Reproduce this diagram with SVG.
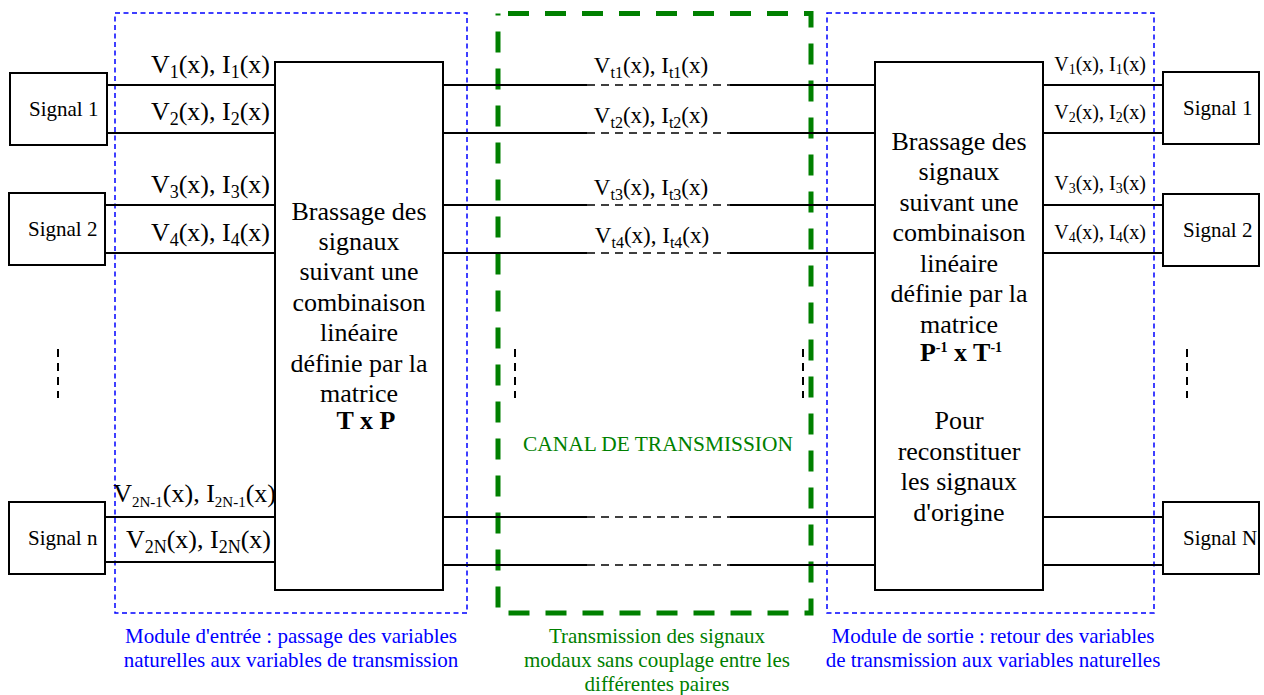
<svg xmlns="http://www.w3.org/2000/svg" width="1264" height="695" viewBox="0 0 1264 695">
<style>
text{font-family:"Liberation Serif","Times New Roman",serif;fill:#000}
.box{fill:#fff;stroke:#000;stroke-width:2}
.ln{stroke:#000;stroke-width:2;fill:none}
.dl{stroke:#000;stroke-width:1.5;stroke-dasharray:8 6;fill:none}
.el{stroke:#000;stroke-width:2;stroke-dasharray:8 6;fill:none}
.blue{fill:none;stroke:#0000ff;stroke-width:1.5;stroke-dasharray:5 3.5}
.green{fill:none;stroke:#008000;stroke-width:5;stroke-dasharray:21 16;stroke-dashoffset:-10}
.lbl{font-family:"Liberation Serif",serif;font-size:26px}
.lblm{font-family:"Liberation Serif",serif;font-size:23px;text-anchor:middle}
.lblr{font-family:"Liberation Serif",serif;font-size:20px;text-anchor:end}
.sig{font-family:"Liberation Serif",serif;font-size:21px}
.bt{font-family:"Liberation Serif",serif;font-size:26px;text-anchor:middle}
.b{font-weight:bold}
.cb{font-family:"Liberation Serif",serif;font-size:21px;fill:#0000ff;text-anchor:middle}
.cg{font-family:"Liberation Serif",serif;font-size:21px;fill:#008000;text-anchor:middle}
</style>
<g id="frames">
<rect class="blue" x="115" y="13" width="352" height="600"/>
<rect class="green" x="498" y="13.5" width="313" height="599.5"/>
<rect class="blue" x="827" y="13" width="327" height="600"/>
</g>
<g id="connectors">
<path class="ln" d="M107 85H275M107 133H275M105 205H275M105 253H275M105 517H275M105 562H275"/>
<path class="ln" d="M443 85H587M730 85H875M443 133H587M730 133H875M443 205H587M730 205H875M443 253H587M730 253H875M443 517H587M730 517H875M443 565H587M730 565H875"/>
<path class="dl" d="M587 85H730M587 133H730M587 205H730M587 253H730M587 517H730M587 565H730"/>
<path class="ln" d="M1043 85H1163M1043 133H1163M1043 205H1163M1043 253H1163M1043 517H1163M1043 565H1163"/>
<path class="el" d="M58 349V398M515 349V398M803 349V398M1187 349V398"/>
</g>
<g id="signal1-in"><rect class="box" x="10" y="73" width="97" height="72"/><text class="sig" x="29" y="116">Signal 1</text></g>
<g id="signal2-in"><rect class="box" x="9" y="193" width="96" height="72"/><text class="sig" x="28" y="236">Signal 2</text></g>
<g id="signaln-in"><rect class="box" x="9" y="502" width="96" height="72"/><text class="sig" x="28" y="545">Signal n</text></g>
<g id="signal1-out"><rect class="box" x="1163" y="72" width="96" height="72"/><text class="sig" x="1183" y="115">Signal 1</text></g>
<g id="signal2-out"><rect class="box" x="1163" y="194" width="96" height="72"/><text class="sig" x="1183" y="237">Signal 2</text></g>
<g id="signaln-out"><rect class="box" x="1163" y="502" width="96" height="72"/><text class="sig" x="1183" y="545">Signal N</text></g>
<g id="labels-in">
<text class="lbl" x="270" y="73" text-anchor="end">V<tspan font-size="18" dy="5">1</tspan><tspan dy="-5">(x), I</tspan><tspan font-size="18" dy="5">1</tspan><tspan dy="-5">(x)</tspan></text>
<text class="lbl" x="270" y="120" text-anchor="end">V<tspan font-size="18" dy="5">2</tspan><tspan dy="-5">(x), I</tspan><tspan font-size="18" dy="5">2</tspan><tspan dy="-5">(x)</tspan></text>
<text class="lbl" x="270" y="193" text-anchor="end">V<tspan font-size="18" dy="5">3</tspan><tspan dy="-5">(x), I</tspan><tspan font-size="18" dy="5">3</tspan><tspan dy="-5">(x)</tspan></text>
<text class="lbl" x="270" y="241" text-anchor="end">V<tspan font-size="18" dy="5">4</tspan><tspan dy="-5">(x), I</tspan><tspan font-size="18" dy="5">4</tspan><tspan dy="-5">(x)</tspan></text>
<text class="lbl" x="276" y="502" text-anchor="end" font-size="23">V<tspan font-size="15" dy="5">2N-1</tspan><tspan dy="-5">(x), I</tspan><tspan font-size="15" dy="5">2N-1</tspan><tspan dy="-5">(x)</tspan></text>
<text class="lbl" x="271" y="548" text-anchor="end">V<tspan font-size="18" dy="5">2N</tspan><tspan dy="-5">(x), I</tspan><tspan font-size="18" dy="5">2N</tspan><tspan dy="-5">(x)</tspan></text>
</g>
<g id="labels-mid">
<text class="lblm" x="651" y="73">V<tspan font-size="16" dy="5">t1</tspan><tspan dy="-5">(x), I</tspan><tspan font-size="16" dy="5">t1</tspan><tspan dy="-5">(x)</tspan></text>
<text class="lblm" x="651" y="123">V<tspan font-size="16" dy="5">t2</tspan><tspan dy="-5">(x), I</tspan><tspan font-size="16" dy="5">t2</tspan><tspan dy="-5">(x)</tspan></text>
<text class="lblm" x="651" y="195">V<tspan font-size="16" dy="5">t3</tspan><tspan dy="-5">(x), I</tspan><tspan font-size="16" dy="5">t3</tspan><tspan dy="-5">(x)</tspan></text>
<text class="lblm" x="652" y="243">V<tspan font-size="16" dy="5">t4</tspan><tspan dy="-5">(x), I</tspan><tspan font-size="16" dy="5">t4</tspan><tspan dy="-5">(x)</tspan></text>
</g>
<g id="labels-out">
<text class="lblr" x="1146" y="71">V<tspan font-size="14" dy="3">1</tspan><tspan dy="-3">(x), I</tspan><tspan font-size="14" dy="3">1</tspan><tspan dy="-3">(x)</tspan></text>
<text class="lblr" x="1146" y="119">V<tspan font-size="14" dy="3">2</tspan><tspan dy="-3">(x), I</tspan><tspan font-size="14" dy="3">2</tspan><tspan dy="-3">(x)</tspan></text>
<text class="lblr" x="1146" y="190">V<tspan font-size="14" dy="3">3</tspan><tspan dy="-3">(x), I</tspan><tspan font-size="14" dy="3">3</tspan><tspan dy="-3">(x)</tspan></text>
<text class="lblr" x="1146" y="239">V<tspan font-size="14" dy="3">4</tspan><tspan dy="-3">(x), I</tspan><tspan font-size="14" dy="3">4</tspan><tspan dy="-3">(x)</tspan></text>
</g>
<g id="module-in">
<rect class="box" x="275" y="62" width="168" height="528"/>
<text class="bt" x="359" y="220">Brassage des</text>
<text class="bt" x="359" y="250">signaux</text>
<text class="bt" x="359" y="280">suivant une</text>
<text class="bt" x="359" y="311">combinaison</text>
<text class="bt" x="359" y="341">linéaire</text>
<text class="bt" x="359" y="372">définie par la</text>
<text class="bt" x="359" y="402">matrice</text>
<text class="bt b" x="366" y="429" font-size="21">T x P</text>
</g>
<g id="module-out">
<rect class="box" x="875" y="62" width="168" height="528"/>
<text class="bt" x="959" y="150">Brassage des</text>
<text class="bt" x="959" y="180">signaux</text>
<text class="bt" x="959" y="211">suivant une</text>
<text class="bt" x="959" y="241">combinaison</text>
<text class="bt" x="959" y="272">linéaire</text>
<text class="bt" x="959" y="302">définie par la</text>
<text class="bt" x="959" y="333">matrice</text>
<text class="bt b" x="961" y="361" font-size="21">P<tspan font-size="14" dy="-9">-1</tspan><tspan dy="9"> x T</tspan><tspan font-size="14" dy="-9">-1</tspan></text>
<text class="bt" x="959" y="429">Pour</text>
<text class="bt" x="959" y="460">reconstituer</text>
<text class="bt" x="959" y="490">les signaux</text>
<text class="bt" x="959" y="521">d'origine</text>
</g>
<g id="channel">
<text x="658" y="451" font-size="21.4" text-anchor="middle" style="fill:#008000;font-family:'Liberation Serif',serif">CANAL DE TRANSMISSION</text>
</g>
<g id="captions">
<text class="cb" x="291" y="643">Module d'entrée : passage des variables</text>
<text class="cb" x="291" y="667">naturelles aux variables de transmission</text>
<text class="cg" x="657" y="643">Transmission des signaux</text>
<text class="cg" x="657" y="667">modaux sans couplage entre les</text>
<text class="cg" x="657" y="691">différentes paires</text>
<text class="cb" x="993" y="643">Module de sortie : retour des variables</text>
<text class="cb" x="993" y="667">de transmission aux variables naturelles</text>
</g>
</svg>
